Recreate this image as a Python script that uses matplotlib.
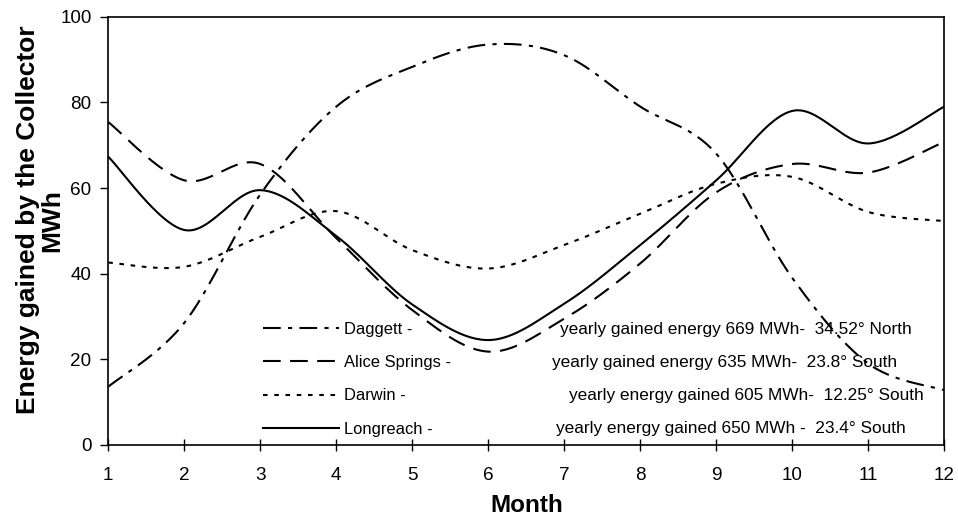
import numpy as np
import matplotlib
matplotlib.use("Agg")
import matplotlib.pyplot as plt

months = [1, 2, 3, 4, 5, 6, 7, 8, 9, 10, 11, 12]
daggett = [13.6, 28.5, 58.5, 79.0, 88.3, 93.5, 91.0, 79.0, 68.0, 39.0, 19.0, 12.8]
alice = [75.4, 61.8, 65.6, 48.3, 31.5, 21.8, 29.5, 42.4, 59.0, 65.6, 63.6, 70.8]
darwin = [42.6, 41.6, 48.6, 54.6, 45.5, 41.2, 46.7, 54.0, 61.0, 62.6, 54.4, 52.3]
longreach = [67.3, 50.2, 59.5, 48.8, 32.8, 24.5, 33.0, 46.7, 61.8, 78.0, 70.4, 79.0]

names = ["Daggett -", "Alice Springs -", "Darwin -", "Longreach -"]
notes = ["yearly gained energy 669 MWh-  34.52\u00b0 North",
         "yearly gained energy 635 MWh-  23.8\u00b0 South",
         "yearly energy gained 605 MWh-  12.25\u00b0 South",
         "yearly energy gained 650 MWh -  23.4\u00b0 South"]


def smooth(x, y, n=30):
    # excel-like smoothed line (catmull-rom bezier)
    x = np.asarray(x, float)
    y = np.asarray(y, float)
    px = np.concatenate([[x[0]], x, [x[-1]]])
    py = np.concatenate([[y[0]], y, [y[-1]]])
    xs, ys = [], []
    t = np.linspace(0, 1, n)
    for i in range(1, len(px) - 2):
        p0 = np.array([px[i], py[i]])
        p3 = np.array([px[i + 1], py[i + 1]])
        c1 = p0 + (np.array([px[i + 1], py[i + 1]]) - np.array([px[i - 1], py[i - 1]])) / 6
        c2 = p3 - (np.array([px[i + 2], py[i + 2]]) - np.array([px[i], py[i]])) / 6
        b = ((1 - t) ** 3)[:, None] * p0 + (3 * (1 - t) ** 2 * t)[:, None] * c1 \
            + (3 * (1 - t) * t ** 2)[:, None] * c2 + (t ** 3)[:, None] * p3
        xs.extend(b[:, 0])
        ys.extend(b[:, 1])
    return xs, ys


plt.rcParams['font.family'] = ['Liberation Sans', 'DejaVu Sans']

fig = plt.figure(figsize=(9.58, 5.17), dpi=100)
ax = fig.add_axes([0.113, 0.1393, 0.8727, 0.8284])

lw = 1.5
styles = [(0, (8.5, 3.5, 2, 3.5)), (0, (8.5, 4.5)), (0, (2.2, 3.2)), "-"]
for vals, ls, name in zip([daggett, alice, darwin, longreach], styles, names):
    sx, sy = smooth(months, vals)
    ax.plot(sx, sy, color="black", lw=lw, linestyle=ls, label=name)

ax.set_xlim(1, 12)
ax.set_ylim(0, 100)
ax.set_xticks(months)
ax.set_yticks([0, 20, 40, 60, 80, 100])
ax.tick_params(axis="x", direction="inout", length=9, width=1, pad=11, labelsize=13.6)
ax.tick_params(axis="y", direction="out", length=6, width=1, pad=6, labelsize=13.6)
for s in ax.spines.values():
    s.set_linewidth(1.2)

ax.set_xlabel("Month", fontsize=17.5, fontweight="bold")
ax.xaxis.set_label_coords(0.5, -0.115)
ax.set_ylabel("Energy gained by the Collector\nMWh", fontsize=19, fontweight="bold",
              linespacing=1.0)
ax.yaxis.set_label_coords(-0.053, 0.525)

leg = ax.legend(loc="upper left", bbox_to_anchor=(0.185, 0.287), frameon=False,
                fontsize=11.9, handlelength=4.6, handletextpad=0.3,
                labelspacing=1.1, borderpad=0, borderaxespad=0)

note_x = [0.540, 0.531, 0.551, 0.536]
note_y = [0.2586, 0.1823, 0.1045, 0.0282]
for nx, ny, txt in zip(note_x, note_y, notes):
    ax.text(nx, ny, txt, transform=ax.transAxes, fontsize=12.4, va="baseline", ha="left")

fig.savefig("out.png", dpi=100)
